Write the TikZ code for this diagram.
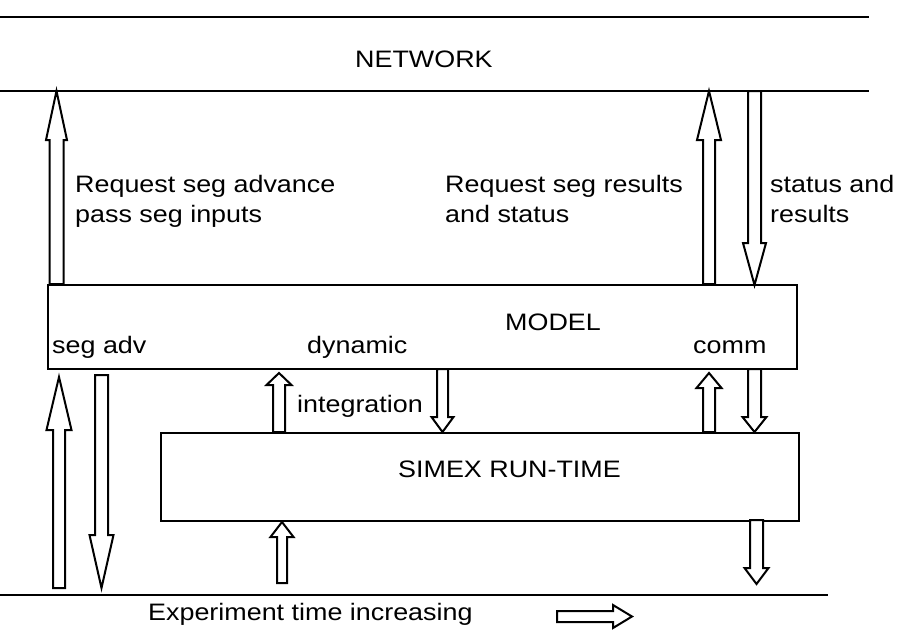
\documentclass[tikz,border=0pt]{standalone}
\usepackage{fontspec}
\setmainfont[FakeStretch=1.13]{Liberation Sans}
\usetikzlibrary{calc}
\tikzset{
  hline/.style={line width=2.4pt},
  boxst/.style={draw, line width=2pt, inner sep=0pt, anchor=north west},
  blk/.style={draw, line width=2pt, fill=white, line join=miter},
  lbl/.style={anchor=base west, inner sep=0pt, font=\fontsize{23.8}{28}\selectfont}
}
% block arrow: from, to, half shaft, half head, head length
\newcommand{\blockarr}[5]{%
  \draw[blk] let \p1=(#1), \p2=(#2),
    \n1={atan2(\y2-\y1,\x2-\x1)}, \n2={veclen(\x2-\x1,\y2-\y1)} in
    [shift={(\p1)}, rotate=\n1]
    (0pt,-#3pt) -- ({\n2-#5pt},-#3pt) -- ({\n2-#5pt},-#4pt) -- (\n2,0pt)
    -- ({\n2-#5pt},#4pt) -- ({\n2-#5pt},#3pt) -- (0pt,#3pt) -- cycle;}
\begin{document}
\begin{tikzpicture}[x=1pt,y=-1pt]
\useasboundingbox (0,0) rectangle (902,635);
% horizontal lines
\coordinate (t1) at (0,17);   \coordinate (t2) at (869,17);
\coordinate (n1) at (0,91);   \coordinate (n2) at (869,91);
\coordinate (b1) at (0,595);  \coordinate (b2) at (828,595);
\draw[hline] (t1) -- (t2);
\draw[hline] (n1) -- (n2);
\draw[hline] (b1) -- (b2);
% boxes
\node[boxst, minimum width=749pt, minimum height=84pt] (model) at (47,284) {};
\node[boxst, minimum width=638pt, minimum height=88pt] (simex) at (160,432) {};
% texts
\node[lbl] (network) at (355,67) {NETWORK};
\node[lbl] (rq1) at (75,192) {Request seg advance};
\node[lbl] (rq2) at (75,222) {pass seg inputs};
\node[lbl] (rr1) at (445,192) {Request seg results};
\node[lbl] (rr2) at (445,222) {and status};
\node[lbl] (sr1) at (770,192) {status and};
\node[lbl] (sr2) at (770,222) {results};
\node[lbl] (modeltxt) at (505,330) {MODEL};
\node[lbl] (segadv) at (52,353) {seg adv};
\node[lbl] (dyn) at (307,353) {dynamic};
\node[lbl] (comm) at (693,353) {comm};
\node[lbl] (integ) at (297,412) {integration};
\node[lbl] (simextxt) at (398,477) {SIMEX RUN-TIME};
\node[lbl] (exper) at (148,620) {Experiment time increasing};
% arrow end coordinates
\coordinate (a1s) at (56.5,284); \coordinate (a1e) at (56.5,91);
\coordinate (a2s) at (709,284);  \coordinate (a2e) at (709,91);
\coordinate (a3s) at (754.5,91); \coordinate (a3e) at (754.5,285);
\coordinate (a4s) at (59,588);   \coordinate (a4e) at (59,377);
\coordinate (a5s) at (101.5,375);\coordinate (a5e) at (101.5,588);
\coordinate (a6s) at (279,432);  \coordinate (a6e) at (279,373);
\coordinate (a7s) at (442.5,369);\coordinate (a7e) at (442.5,432);
\coordinate (a8s) at (709,432);  \coordinate (a8e) at (709,373);
\coordinate (a9s) at (754.5,369);\coordinate (a9e) at (754.5,432);
\coordinate (a10s) at (756.5,520);\coordinate (a10e) at (756.5,584);
\coordinate (a11s) at (282,583); \coordinate (a11e) at (282,522);
\coordinate (a12s) at (557,616.5);\coordinate (a12e) at (632,616.5);
% arrows
\blockarr{a1s}{a1e}{7}{10.5}{49}
\blockarr{a2s}{a2e}{6}{12}{49}
\blockarr{a3s}{a3e}{6.5}{11.5}{42}
\blockarr{a4s}{a4e}{6}{12.5}{53}
\blockarr{a5s}{a5e}{6.5}{12}{53}
\blockarr{a6s}{a6e}{6}{12.5}{12}
\blockarr{a7s}{a7e}{5.5}{11}{15}
\blockarr{a8s}{a8e}{6}{12.5}{15}
\blockarr{a9s}{a9e}{6.5}{12}{15}
\blockarr{a10s}{a10e}{6.5}{12}{16}
\blockarr{a11s}{a11e}{5}{11.5}{15}
\blockarr{a12s}{a12e}{5.5}{11.5}{19}
\end{tikzpicture}
\end{document}
